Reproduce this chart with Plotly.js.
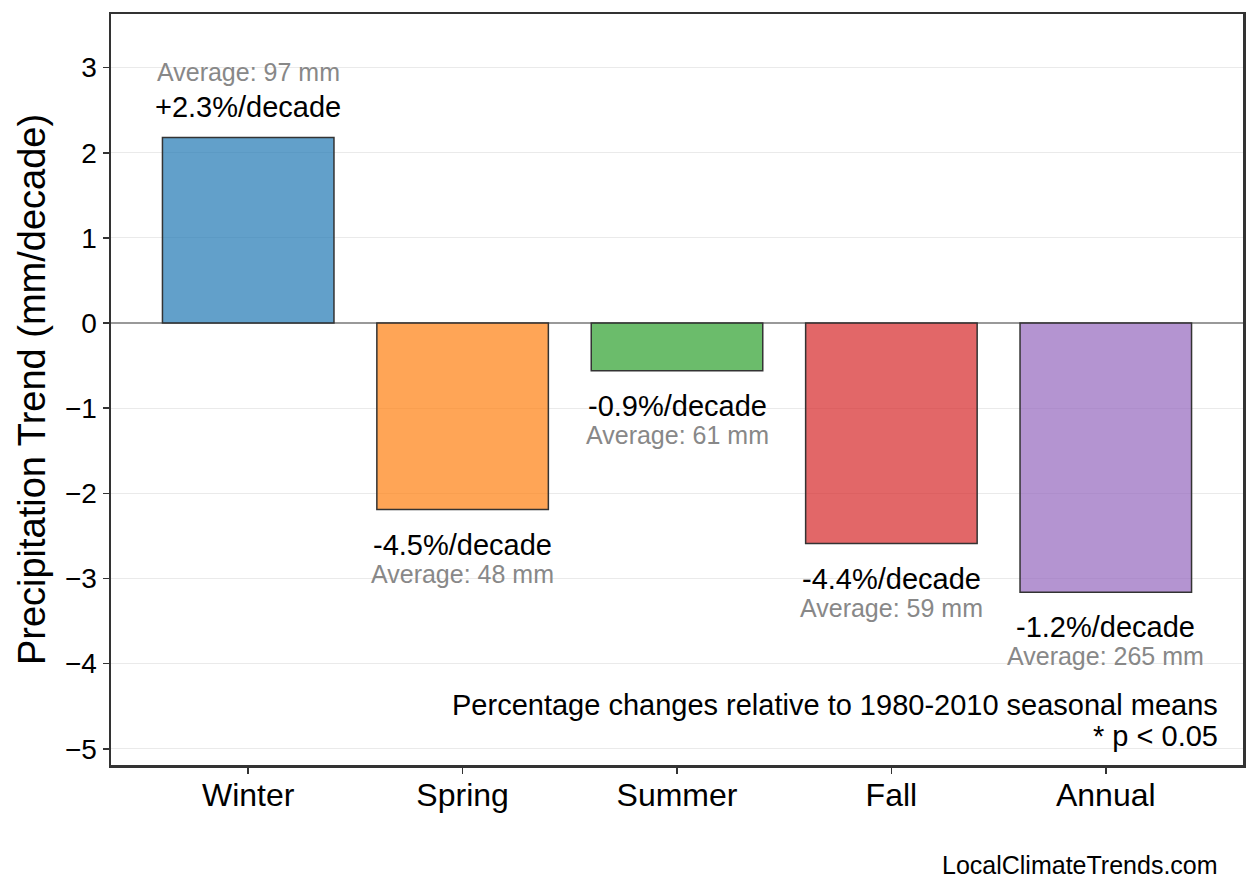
<!DOCTYPE html>
<html>
<head>
<meta charset="utf-8">
<script src="https://cdn.plot.ly/plotly-3.0.1.min.js"></script>
<style>
  body { margin: 0; background: white; }
  #chart { width: 1258px; height: 893px; }
</style>
</head>
<body>
<div id="chart"></div>
<script>
var seasons = ["Winter", "Spring", "Summer", "Fall", "Annual"];
var trends = [2.18, -2.19, -0.56, -2.59, -3.16];
var pct_labels = ["+2.3%/decade", "-4.5%/decade", "-0.9%/decade", "-4.4%/decade", "-1.2%/decade"];
var avg_labels = ["Average: 97 mm", "Average: 48 mm", "Average: 61 mm", "Average: 59 mm", "Average: 265 mm"];
var fills = ["rgba(31,119,180,0.7)", "rgba(255,127,14,0.7)", "rgba(44,160,44,0.7)", "rgba(214,39,40,0.7)", "rgba(148,103,189,0.7)"];
var y_ticks = [-5, -4, -3, -2, -1, 0, 1, 2, 3];
var note_lines = ["Percentage changes relative to 1980-2010 seasonal means", "* p < 0.05"];

var FONT = "Liberation Sans, Arial, sans-serif";

var trace = {
  x: seasons,
  y: trends,
  type: "bar",
  width: 0.8,
  marker: { color: fills, line: { color: "#333333", width: 1.5 } },
  hoverinfo: "skip"
};

var annotations = [];
for (let i = 0; i < seasons.length; i++) {
  var up = trends[i] >= 0;
  annotations.push({
    x: seasons[i], y: trends[i], xref: "x", yref: "y",
    text: pct_labels[i], showarrow: false,
    yshift: up ? 30 : -35,
    font: { family: FONT, size: 29, color: "black" }
  });
  annotations.push({
    x: seasons[i], y: trends[i], xref: "x", yref: "y",
    text: avg_labels[i], showarrow: false,
    yshift: up ? 65 : -64,
    font: { family: FONT, size: 25, color: "#888888" }
  });
}
// note in the lower right corner, one annotation per line
var note_y = [0.0799, 0.0386];
for (let i = 0; i < note_lines.length; i++) {
  annotations.push({
    xref: "paper", yref: "paper", x: 0.9797, y: note_y[i],
    xanchor: "right", yanchor: "middle",
    text: note_lines[i], showarrow: false,
    font: { family: FONT, size: 29, color: "black" }
  });
}
annotations.push({
  xref: "paper", yref: "paper", x: 0.9797, y: -0.133,
  xanchor: "right", yanchor: "middle",
  text: "LocalClimateTrends.com", showarrow: false,
  font: { family: FONT, size: 25, color: "black" }
});

var layout = {
  width: 1258, height: 893,
  margin: { l: 111, r: 15, t: 14, b: 128 },
  paper_bgcolor: "white", plot_bgcolor: "white",
  font: { family: FONT, color: "black" },
  showlegend: false,
  xaxis: {
    range: [-0.64, 4.64],
    ticks: "outside", ticklen: 6, tickwidth: 1.5, tickcolor: "#333333",
    showline: true, mirror: true, linecolor: "#333333", linewidth: 2.5,
    showgrid: false, zeroline: false,
    tickfont: { family: FONT, size: 32, color: "black" },
    ticklabelstandoff: -6,
    layer: "above traces"
  },
  yaxis: {
    range: [-5.19, 3.63],
    tickvals: y_ticks,
    ticks: "outside", ticklen: 6, tickwidth: 1.5, tickcolor: "#333333",
    showline: true, mirror: true, linecolor: "#333333", linewidth: 2.5,
    showgrid: true, gridcolor: "rgba(220,220,220,0.6)", gridwidth: 1,
    zeroline: true, zerolinecolor: "#999999", zerolinewidth: 1.5,
    tickfont: { family: FONT, size: 28, color: "black" },
    title: { text: "Precipitation Trend (mm/decade)", font: { family: FONT, size: 38, color: "black" }, standoff: 8 },
    layer: "above traces"
  },
  annotations: annotations
};

Plotly.newPlot("chart", [trace], layout, { displayModeBar: false, staticPlot: true });
</script>
</body>
</html>
